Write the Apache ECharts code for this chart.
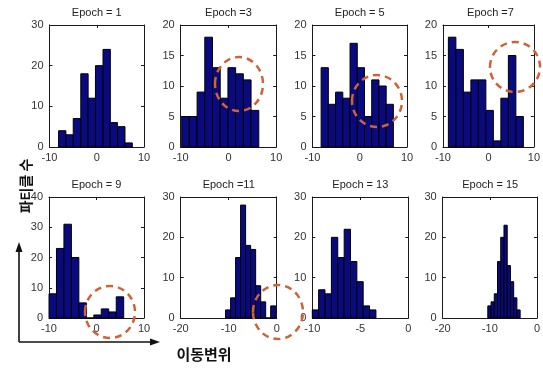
<!DOCTYPE html>
<html><head><meta charset="utf-8">
<script src="https://cdn.jsdelivr.net/npm/echarts@6/dist/echarts.min.js"></script>
<style>html,body{margin:0;padding:0;background:#fff}#c{width:543px;height:369px}</style>
</head><body><div id="c"></div>
<script>
// ---------- data ----------
const titles = ['Epoch = 1','Epoch =3','Epoch = 5','Epoch =7','Epoch = 9','Epoch =11','Epoch = 13','Epoch = 15'];

const e1Centers  = [-7.3, -5.75, -4.2, -2.6, -1.05, 0.5, 2.1, 3.6, 5.2, 6.75];
const e1Counts   = [4, 3, 7, 18, 12, 20, 24, 6, 5, 1];
const e3Centers  = [-8.99, -7.38, -5.76, -4.15, -2.53, -0.92, 0.70, 2.31, 3.93, 5.55];
const e3Counts   = [5, 5, 9, 18, 13, 8, 13, 12, 11, 6];
const e5Centers  = [-7.41, -5.88, -4.35, -2.82, -1.29, 0.24, 1.77, 3.30, 4.83, 6.35];
const e5Counts   = [13, 7, 9, 8, 17, 13, 5, 11, 10, 7];
const e7Centers  = [-7.99, -6.34, -4.69, -3.04, -1.39, 0.26, 1.91, 3.56, 5.21, 6.86];
const e7Counts   = [18, 16, 9, 11, 11, 6, 1, 8, 15, 5];
const e9Centers  = [-9.21, -7.64, -6.07, -4.50, -2.92, -1.35, 0.22, 1.79, 3.36, 4.94];
const e9Counts   = [8, 23, 31, 20, 5, 0, 1, 3, 2, 7];
const e11Centers = [-10.13, -9.08, -8.04, -7.00, -5.95, -4.91, -3.86, -2.82, -1.78, -0.73];
const e11Counts  = [2, 5, 15, 28, 18, 17, 8, 4, 0, 3];
const e13Centers = [-9.67, -9.01, -8.34, -7.68, -7.02, -6.35, -5.69, -5.03, -4.37, -3.70];
const e13Counts  = [2, 7, 6, 20, 15, 22, 14, 9, 3, 2];
const e15Centers = [-10.08, -9.39, -8.71, -8.02, -7.34, -6.65, -5.97, -5.28, -4.60, -3.91];
const e15Counts  = [3, 4, 6, 14, 20, 23, 13, 9, 5, 2];

const xTicksA = [-10, 0, 10];
const xTicksB = [-20, -10, 0];
const xTicksC = [-10, -5, 0];
const yTicks30 = [0, 10, 20, 30];
const yTicks20 = [0, 5, 10, 15, 20];
const yTicks40 = [0, 10, 20, 30, 40];

const yLabel = '파티클 수';
const xLabel = '이동변위';

// ---------- layout ----------
const centersAll = [e1Centers,e3Centers,e5Centers,e7Centers,e9Centers,e11Centers,e13Centers,e15Centers];
const countsAll  = [e1Counts,e3Counts,e5Counts,e7Counts,e9Counts,e11Counts,e13Counts,e15Counts];
const xTicksAll  = [xTicksA,xTicksA,xTicksA,xTicksA,xTicksA,xTicksB,xTicksC,xTicksB];
const yTicksAll  = [yTicks30,yTicks20,yTicks20,yTicks20,yTicks40,yTicks30,yTicks30,yTicks30];
const gridPos = [
  [49.5,25,94.5,122],[180.7,25,95.5,122],[312.5,25,94.5,122],[443,25,95,122],
  [49,197,95,121],[180.7,197,96,121],[312.3,197,96,121],[442.7,197,95,121]
];
const titleY = [7,7,7,7,179,179,179,179];

const LINE = '#1a1a1a';
const FONT = 'Liberation Sans, Arial, sans-serif';
const grids=[], xAxes=[], yAxes=[], series=[], titleArr=[];

function renderItem(params, api){
  const x = api.value(0), y = api.value(1), w = api.value(2);
  const p0 = api.coord([x - w/2, y]);
  const p1 = api.coord([x + w/2, 0]);
  return {type:'rect', shape:{x:p0[0], y:p0[1], width:p1[0]-p0[0], height:p1[1]-p0[1]},
          style:{fill:'#0a0a80', stroke:'#000', lineWidth:1}};
}

for (let i=0;i<8;i++){
  const [l,t,w,h] = gridPos[i];
  grids.push({left:l, top:t, width:w, height:h, containLabel:false});
  const xt = xTicksAll[i], yt = yTicksAll[i];
  const xi = xt[1]-xt[0], yi = yt[1]-yt[0];
  const axLine = {show:true, onZero:false, lineStyle:{color:LINE, width:1}};
  const tick = {show:true, inside:true, length:3, lineStyle:{color:LINE}};
  xAxes.push({type:'value', gridIndex:i, position:'bottom', min:xt[0], max:xt[xt.length-1], interval:xi,
    axisLine:axLine, axisTick:tick, splitLine:{show:false},
    axisLabel:{color:'#333', fontSize:11, fontFamily:FONT, margin:5, showMinLabel:true, showMaxLabel:true}});
  xAxes.push({type:'value', gridIndex:i, position:'top', min:xt[0], max:xt[xt.length-1], interval:xi,
    axisLine:axLine, axisTick:tick, splitLine:{show:false}, axisLabel:{show:false}});
  yAxes.push({type:'value', gridIndex:i, position:'left', min:yt[0], max:yt[yt.length-1], interval:yi,
    axisLine:axLine, axisTick:tick, splitLine:{show:false},
    axisLabel:{color:'#333', fontSize:11, fontFamily:FONT, margin:6}});
  yAxes.push({type:'value', gridIndex:i, position:'right', min:yt[0], max:yt[yt.length-1], interval:yi,
    axisLine:axLine, axisTick:tick, splitLine:{show:false}, axisLabel:{show:false}});
  const c = centersAll[i], n = countsAll[i];
  const bw = c[1]-c[0];
  series.push({type:'custom', xAxisIndex:2*i, yAxisIndex:2*i, renderItem:renderItem,
    data: c.map((v,k)=>[v, n[k], bw]), silent:true, animation:false});
  titleArr.push({text:titles[i], left:l+w/2, top:titleY[i], textAlign:'center', padding:0,
    textStyle:{fontSize:11, fontWeight:'normal', color:'#222', fontFamily:FONT}});
}

const RED = '#cf6238';
const ell = (cx,cy,rx,ry)=>({type:'ellipse', shape:{cx,cy,rx,ry}, z:100,
  style:{fill:null, stroke:RED, lineWidth:2.5, lineDash:[7,5]}});

const chart = echarts.init(document.getElementById('c'));
chart.setOption({
  animation:false,
  backgroundColor:'#fff',
  title:titleArr,
  grid:grids, xAxis:xAxes, yAxis:yAxes, series:series,
  graphic:[
    ell(239,84,24,27), ell(377,101,25,26), ell(515,67,25,25),
    ell(110,312,25,26), ell(278,312,25,27),
    {type:'line', shape:{x1:19,y1:342,x2:19,y2:250}, style:{stroke:'#111', lineWidth:1.6}, z:50},
    {type:'polygon', shape:{points:[[19,242],[15.5,252],[22.5,252]]}, style:{fill:'#111'}, z:50},
    {type:'line', shape:{x1:19,y1:342,x2:151,y2:342}, style:{stroke:'#111', lineWidth:1.6}, z:50},
    {type:'polygon', shape:{points:[[160,342],[150,338.5],[150,345.5]]}, style:{fill:'#111'}, z:50},
    {type:'text', x:26, y:186, rotation:Math.PI/2, z:50,
      style:{text:yLabel, font:'bold 14px "Noto Sans CJK KR"', fill:'#111', textAlign:'center', textVerticalAlign:'middle'}},
    {type:'text', x:204, y:354, z:50,
      style:{text:xLabel, font:'bold 15px "Noto Sans CJK KR"', fill:'#111', textAlign:'center', textVerticalAlign:'middle'}}
  ]
});
</script></body></html>
